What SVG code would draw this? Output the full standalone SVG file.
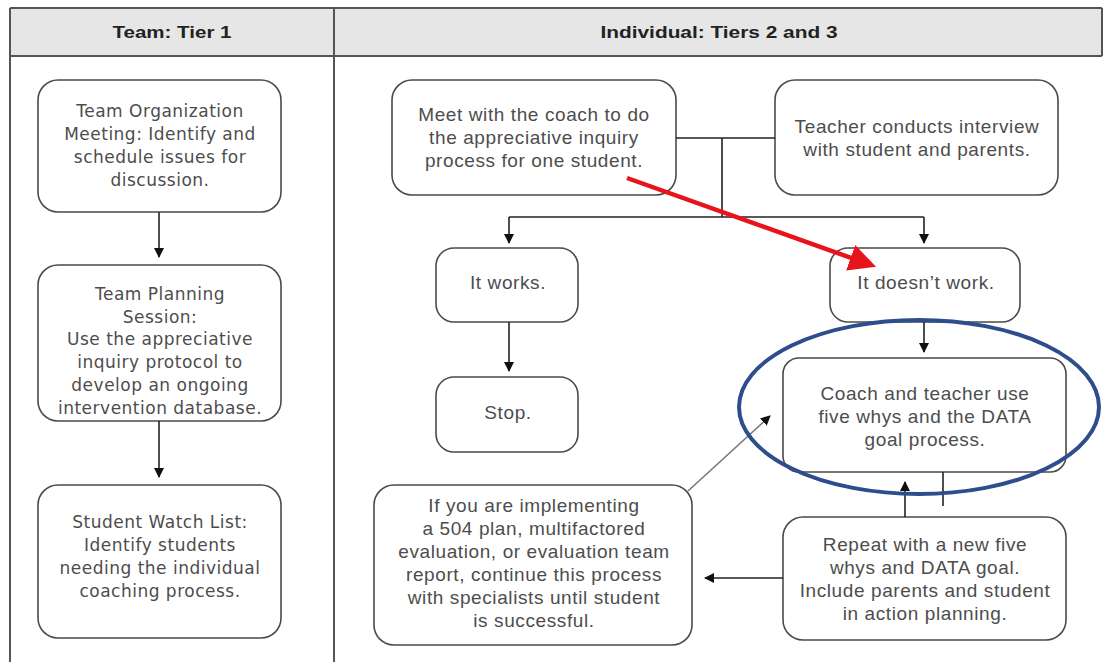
<svg xmlns="http://www.w3.org/2000/svg" width="1104" height="662" viewBox="0 0 1104 662">
  <style>
    .box { fill: #ffffff; stroke: #4a4a4a; stroke-width: 1.6; }
    .txt { font-family: "Liberation Sans", Arial, sans-serif; font-size: 19px; letter-spacing: 0.6px; fill: #4d4d4d; text-anchor: middle; }
    .txl { font-family: "DejaVu Sans", Verdana, sans-serif; font-size: 17px; letter-spacing: 0.5px; fill: #4d4d4d; text-anchor: middle; }
    .hdr { font-family: "Liberation Sans", Arial, sans-serif; font-size: 16px; font-weight: bold; fill: #222; text-anchor: middle; }
    .ln { fill: none; stroke: #222; stroke-width: 1.6; }
  </style>
  <defs>
    <marker id="ah" viewBox="0 0 10 10" refX="9" refY="5" markerWidth="10" markerHeight="10" markerUnits="userSpaceOnUse" orient="auto">
      <path d="M0,0 L10,5 L0,10 Z" fill="#111"/>
    </marker>
    <marker id="ahRed" viewBox="0 0 10 10" refX="8" refY="5" markerWidth="6" markerHeight="6" orient="auto">
      <path d="M0,0 L10,5 L0,10 Z" fill="#e8141b"/>
    </marker>
  </defs>

  <rect width="1104" height="662" fill="#ffffff"/>

  <!-- table frame -->
  <g id="table">
    <rect x="10" y="8" width="1092" height="48" fill="#e6e6e6"/>
    <line x1="10" y1="8" x2="1102" y2="8" stroke="#555" stroke-width="2"/>
    <line x1="10" y1="56" x2="1102" y2="56" stroke="#555" stroke-width="2"/>
    <line x1="10" y1="8" x2="10" y2="662" stroke="#555" stroke-width="2"/>
    <line x1="334" y1="8" x2="334" y2="662" stroke="#555" stroke-width="2"/>
    <line x1="1102" y1="8" x2="1102" y2="56" stroke="#555" stroke-width="2"/>
    <text class="hdr" x="172" y="38" textLength="119" lengthAdjust="spacingAndGlyphs">Team: Tier 1</text>
    <text class="hdr" x="719" y="38" textLength="237" lengthAdjust="spacingAndGlyphs">Individual: Tiers 2 and 3</text>
  </g>

  <!-- Tier 1 column -->
  <g id="team-organization">
    <rect class="box" x="38" y="80" width="243" height="132" rx="20"/>
    <text class="txl" x="160" y="117">Team Organization</text>
    <text class="txl" x="160" y="140">Meeting: Identify and</text>
    <text class="txl" x="160" y="163">schedule issues for</text>
    <text class="txl" x="160" y="186">discussion.</text>
  </g>
  <g id="team-planning">
    <rect class="box" x="38" y="265" width="243" height="156" rx="20"/>
    <text class="txl" x="160" y="300">Team Planning</text>
    <text class="txl" x="160" y="323">Session:</text>
    <text class="txl" x="160" y="345">Use the appreciative</text>
    <text class="txl" x="160" y="368">inquiry protocol to</text>
    <text class="txl" x="160" y="391">develop an ongoing</text>
    <text class="txl" x="160" y="414">intervention database.</text>
  </g>
  <g id="watch-list">
    <rect class="box" x="38" y="485" width="243" height="153" rx="20"/>
    <text class="txl" x="160" y="528">Student Watch List:</text>
    <text class="txl" x="160" y="551">Identify students</text>
    <text class="txl" x="160" y="574">needing the individual</text>
    <text class="txl" x="160" y="597">coaching process.</text>
  </g>

  <!-- Tiers 2 and 3 column -->
  <g id="meet-coach">
    <rect class="box" x="392" y="80" width="284" height="115" rx="20"/>
    <text class="txt" x="534" y="121">Meet with the coach to do</text>
    <text class="txt" x="534" y="144">the appreciative inquiry</text>
    <text class="txt" x="534" y="167">process for one student.</text>
  </g>
  <g id="teacher-interview">
    <rect class="box" x="775" y="80" width="283" height="115" rx="20"/>
    <text class="txt" x="917" y="133">Teacher conducts interview</text>
    <text class="txt" x="917" y="156">with student and parents.</text>
  </g>
  <g id="it-works">
    <rect class="box" x="436" y="248" width="142" height="74" rx="18"/>
    <text class="txt" x="508" y="289">It works.</text>
  </g>
  <g id="it-doesnt-work">
    <rect class="box" x="830" y="248" width="190" height="74" rx="18"/>
    <text class="txt" x="926" y="289">It doesn’t work.</text>
  </g>
  <g id="stop">
    <rect class="box" x="436" y="377" width="142" height="75" rx="18"/>
    <text class="txt" x="508" y="419">Stop.</text>
  </g>
  <g id="coach-teacher">
    <rect class="box" x="783" y="358" width="283" height="114" rx="16"/>
    <text class="txt" x="925" y="400">Coach and teacher use</text>
    <text class="txt" x="925" y="423">five whys and the DATA</text>
    <text class="txt" x="925" y="446">goal process.</text>
  </g>
  <g id="repeat">
    <rect class="box" x="783" y="517" width="283" height="123" rx="20"/>
    <text class="txt" x="925" y="551">Repeat with a new five</text>
    <text class="txt" x="925" y="574">whys and DATA goal.</text>
    <text class="txt" x="925" y="597">Include parents and student</text>
    <text class="txt" x="925" y="620">in action planning.</text>
  </g>
  <g id="specialists">
    <rect class="box" x="374" y="485" width="318" height="160" rx="20"/>
    <text class="txt" x="534" y="512">If you are implementing</text>
    <text class="txt" x="534" y="535">a 504 plan, multifactored</text>
    <text class="txt" x="534" y="558">evaluation, or evaluation team</text>
    <text class="txt" x="534" y="581">report, continue this process</text>
    <text class="txt" x="534" y="604">with specialists until student</text>
    <text class="txt" x="534" y="627">is successful.</text>
  </g>

  <!-- connectors -->
  <g id="connectors">
    <line class="ln" x1="159" y1="212" x2="159" y2="257" marker-end="url(#ah)"/>
    <line class="ln" x1="159" y1="421" x2="159" y2="477" marker-end="url(#ah)"/>
    <line class="ln" x1="676" y1="138" x2="775" y2="138"/>
    <line class="ln" x1="722" y1="138" x2="722" y2="217"/>
    <line class="ln" x1="509" y1="217" x2="924" y2="217"/>
    <line class="ln" x1="509" y1="217" x2="509" y2="243" marker-end="url(#ah)"/>
    <line class="ln" x1="924" y1="217" x2="924" y2="243" marker-end="url(#ah)"/>
    <line class="ln" x1="509" y1="322" x2="509" y2="371" marker-end="url(#ah)"/>
    <line class="ln" x1="924" y1="322" x2="924" y2="352" marker-end="url(#ah)"/>
    <line class="ln" x1="943" y1="472" x2="943" y2="506"/>
    <line class="ln" x1="905" y1="517" x2="905" y2="482" marker-end="url(#ah)"/>
    <line class="ln" x1="783" y1="578" x2="705" y2="578" marker-end="url(#ah)"/>
    <line x1="688" y1="491" x2="770" y2="416" stroke="#777" stroke-width="1.6" marker-end="url(#ah)"/>
    <!-- highlight arrow and ring -->
    <line x1="627" y1="178" x2="871" y2="265" stroke="#e8141b" stroke-width="4.5" marker-end="url(#ahRed)"/>
    <ellipse cx="919" cy="407" rx="180" ry="87" fill="none" stroke="#2d4d8c" stroke-width="4"/>
  </g>
</svg>
